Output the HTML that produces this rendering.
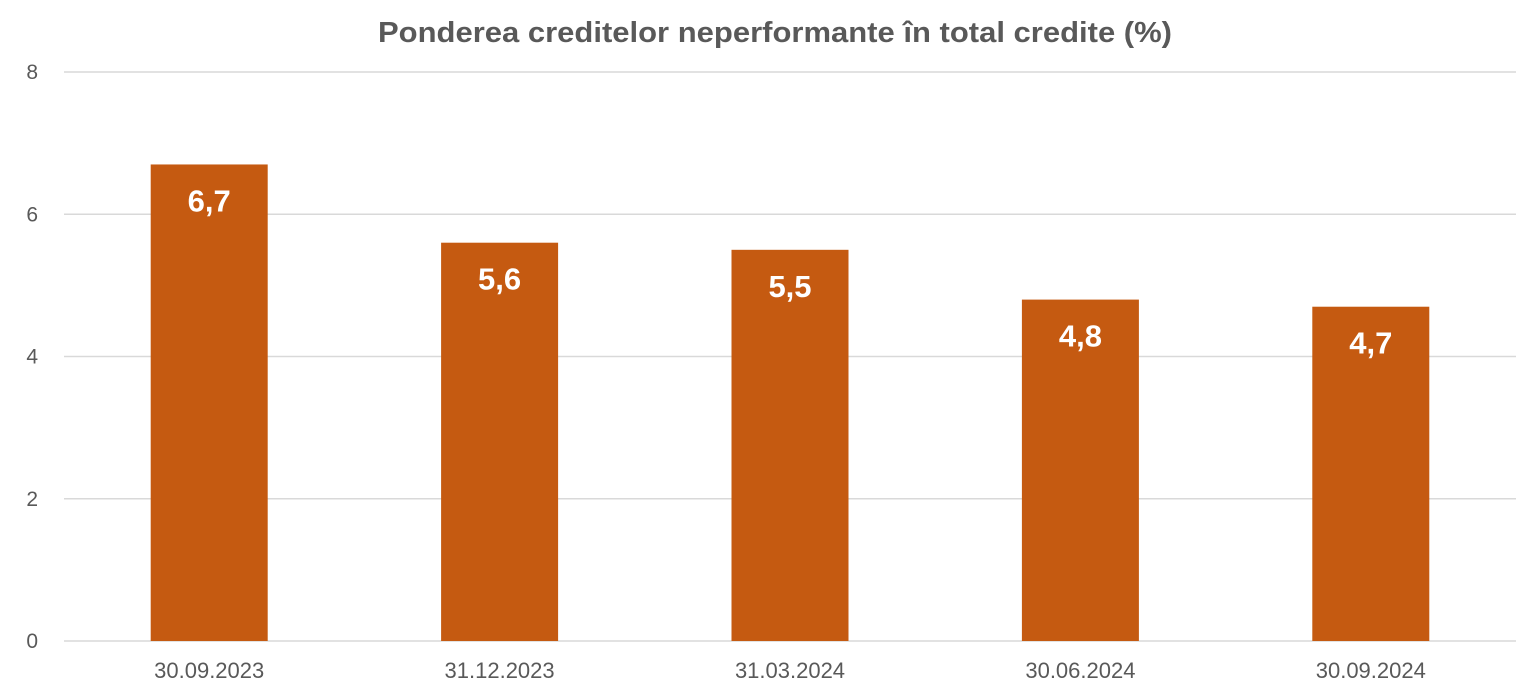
<!DOCTYPE html>
<html><head><meta charset="utf-8"><style>
body{margin:0;background:#fff;}
svg{display:block;font-family:"Liberation Sans",sans-serif;}
</style></head><body>
<svg id="chart" width="1535" height="695" xmlns="http://www.w3.org/2000/svg">
<text x="775" y="42" text-anchor="middle" font-size="29" font-weight="bold" fill="#595959" textLength="794" lengthAdjust="spacingAndGlyphs">Ponderea creditelor neperformante în total credite (%)</text>
<g id="grid"></g><g id="bars"></g><g id="labels"></g>
</svg>
<script>
const categories=["30.09.2023","31.12.2023","31.03.2024","30.06.2024","30.09.2024"];
const values=[6.7,5.6,5.5,4.8,4.7];
const valueLabels=["6,7","5,6","5,5","4,8","4,7"];
const yTicks=[0,2,4,6,8];
const ns="http://www.w3.org/2000/svg";
const x0=64,x1=1516,yTop=72,yBot=641,yMax=8;
const y=v=>yBot-(v/yMax)*(yBot-yTop);
const band=(x1-x0)/categories.length;
const xc=i=>x0+band*(i+0.5);
const bw=117;
function mk(t,a,p){const e=document.createElementNS(ns,t);for(const k in a)e.setAttribute(k,a[k]);p.appendChild(e);return e;}
const grid=document.getElementById('grid'),bars=document.getElementById('bars'),labels=document.getElementById('labels');
yTicks.forEach(t=>{
 const l=mk('line',{x1:x0,x2:x1,y1:y(t),y2:y(t),stroke:'#d9d9d9','stroke-width':1.5},grid);
 
 
 const tx=mk('text',{x:38,y:y(t)+7,'text-anchor':'end','font-size':21,fill:'#595959'},grid);
 tx.textContent=t;
 
 
});
categories.forEach((c,i)=>{
 const r=mk('rect',{x:xc(i)-bw/2,y:y(values[i]),width:bw,height:yBot-y(values[i]),fill:'#C55A11'},bars);
 
 
 const v=mk('text',{x:xc(i),y:y(values[i])+47,'text-anchor':'middle','font-size':31,'font-weight':'bold',fill:'#fff'},labels);
 v.textContent=valueLabels[i];
 
 
 const xt=mk('text',{x:xc(i),y:678,'text-anchor':'middle','font-size':22,fill:'#595959'},labels);
 xt.textContent=c;
 
 
});
</script>
</body></html>
